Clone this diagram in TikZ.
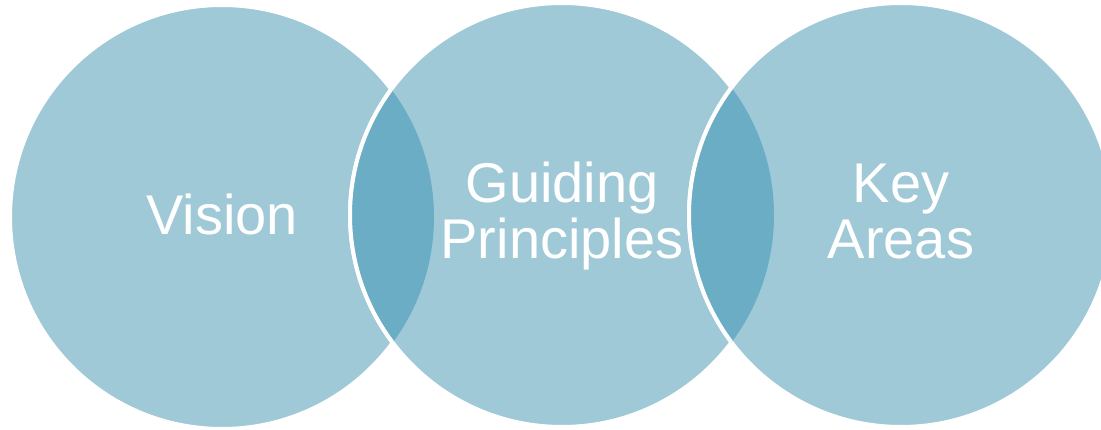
\documentclass[tikz,border=0pt]{standalone}
\usepackage{fontspec}
\setmainfont{Liberation Sans}
\usetikzlibrary{positioning}
\definecolor{vennLight}{HTML}{A0C9D8}
\definecolor{vennDark}{HTML}{6AADC5}

\begin{document}
\begin{tikzpicture}[x=1pt,y=1pt,
    bubble/.style={circle,draw=white,line width=4pt,fill=vennLight,
                   minimum size=424pt,inner sep=0pt,outer sep=0pt},
    lens/.style={fill=vennDark},
    rim/.style={draw=white,line width=4pt},
    word/.style={text=white,font=\fontsize{56}{56}\selectfont,align=center,inner sep=0pt}]
  \useasboundingbox (0,0) rectangle (1101,429);
  \node[bubble] (vision) at (222,212) {};
  \node[bubble] (guide) at (562,214) {};
  \node[bubble] (areas) at (901,214) {};
  % overlaps
  \begin{scope}
    \clip (vision.center) circle (212);
    \fill[lens] (guide.center) circle (212);
    \draw[rim] (guide.center) circle (212);
  \end{scope}
  \begin{scope}
    \clip (guide.center) circle (212);
    \fill[lens] (areas.center) circle (212);
    \draw[rim] (areas.center) circle (212);
  \end{scope}
  % labels
  \node[word,anchor=base] (visionlbl) at (222,194) {Vision};
  \node[word,anchor=base] (guidelbl) at (562,171) {Guiding\\Principles};
  \node[word,anchor=base] (areaslbl) at (901,171) {Key\\Areas};
\end{tikzpicture}
\end{document}
